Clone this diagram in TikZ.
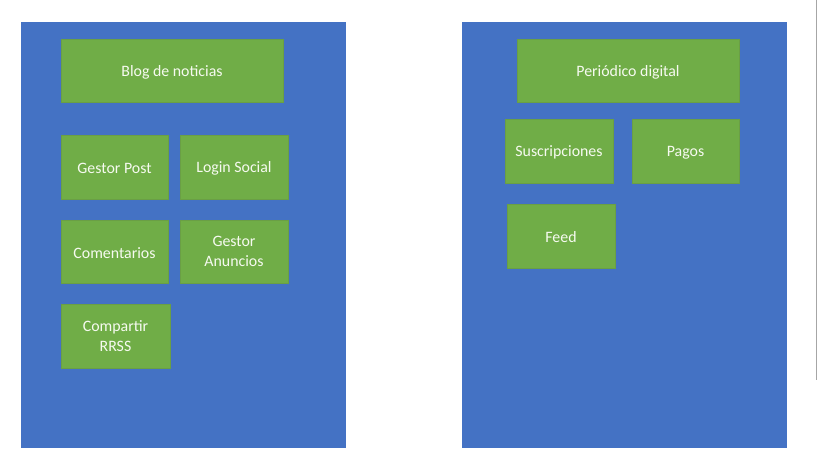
\documentclass[tikz,border=0pt]{standalone}
\usepackage{fontspec}
\setmainfont{Carlito}
\definecolor{panelblue}{HTML}{4472C4}
\definecolor{boxgreen}{HTML}{70AD47}
\definecolor{boxedge}{HTML}{6A9F45}
\definecolor{labelwhite}{HTML}{F6FAF0}
\begin{document}
\begin{tikzpicture}[x=0.75pt,y=-0.75pt,
  panel/.style={fill=panelblue, draw=none},
  module/.style={fill=boxgreen, draw=boxedge, line width=0.4pt, inner sep=0pt,
    text=labelwhite, align=center,
    font=\fontsize{11.9}{15}\selectfont,
    % a tall invisible strut keeps labels centred on the full line box
    execute at begin node={\rule{0pt}{10.3pt}}}]
  % page area
  \fill[white] (0,0) rectangle (820,461);
  \useasboundingbox (0,0) rectangle (820,461);

  % thin scroll line at the right edge
  \draw[gray!70, line width=0.9pt] (816.5,0) -- (816.5,380);

  % two containers
  \path[panel] (21,22) rectangle (346,448);
  \path[panel] (462,22) rectangle (787,448);

  % left container: blog modules
  \node[module, minimum width=222*0.75pt, minimum height=63*0.75pt] (blog) at (172,70.5) {Blog de noticias};
  \node[module, minimum width=107*0.75pt, minimum height=64*0.75pt] (gpost) at (114.5,167) {Gestor Post};
  \node[module, minimum width=108*0.75pt, minimum height=64*0.75pt] (login) at (234,167) {Login Social};
  \node[module, minimum width=107*0.75pt, minimum height=63*0.75pt] (coment) at (114.5,251.5) {Comentarios};
  \node[module, minimum width=108*0.75pt, minimum height=63*0.75pt] (anunc) at (234,251.5) {Gestor\\Anuncios};
  \node[module, minimum width=109*0.75pt, minimum height=64*0.75pt] (rrss) at (115.5,336) {Compartir\\RRSS};

  % right container: digital newspaper modules
  \node[module, minimum width=222*0.75pt, minimum height=63*0.75pt] (perio) at (628,70.5) {Periódico digital};
  \node[module, minimum width=108*0.75pt, minimum height=64*0.75pt] (susc) at (559,151) {Suscripciones};
  \node[module, minimum width=107*0.75pt, minimum height=64*0.75pt] (pagos) at (685.5,151) {Pagos};
  \node[module, minimum width=108*0.75pt, minimum height=64*0.75pt] (feed) at (561,236) {Feed};
\end{tikzpicture}
\end{document}
